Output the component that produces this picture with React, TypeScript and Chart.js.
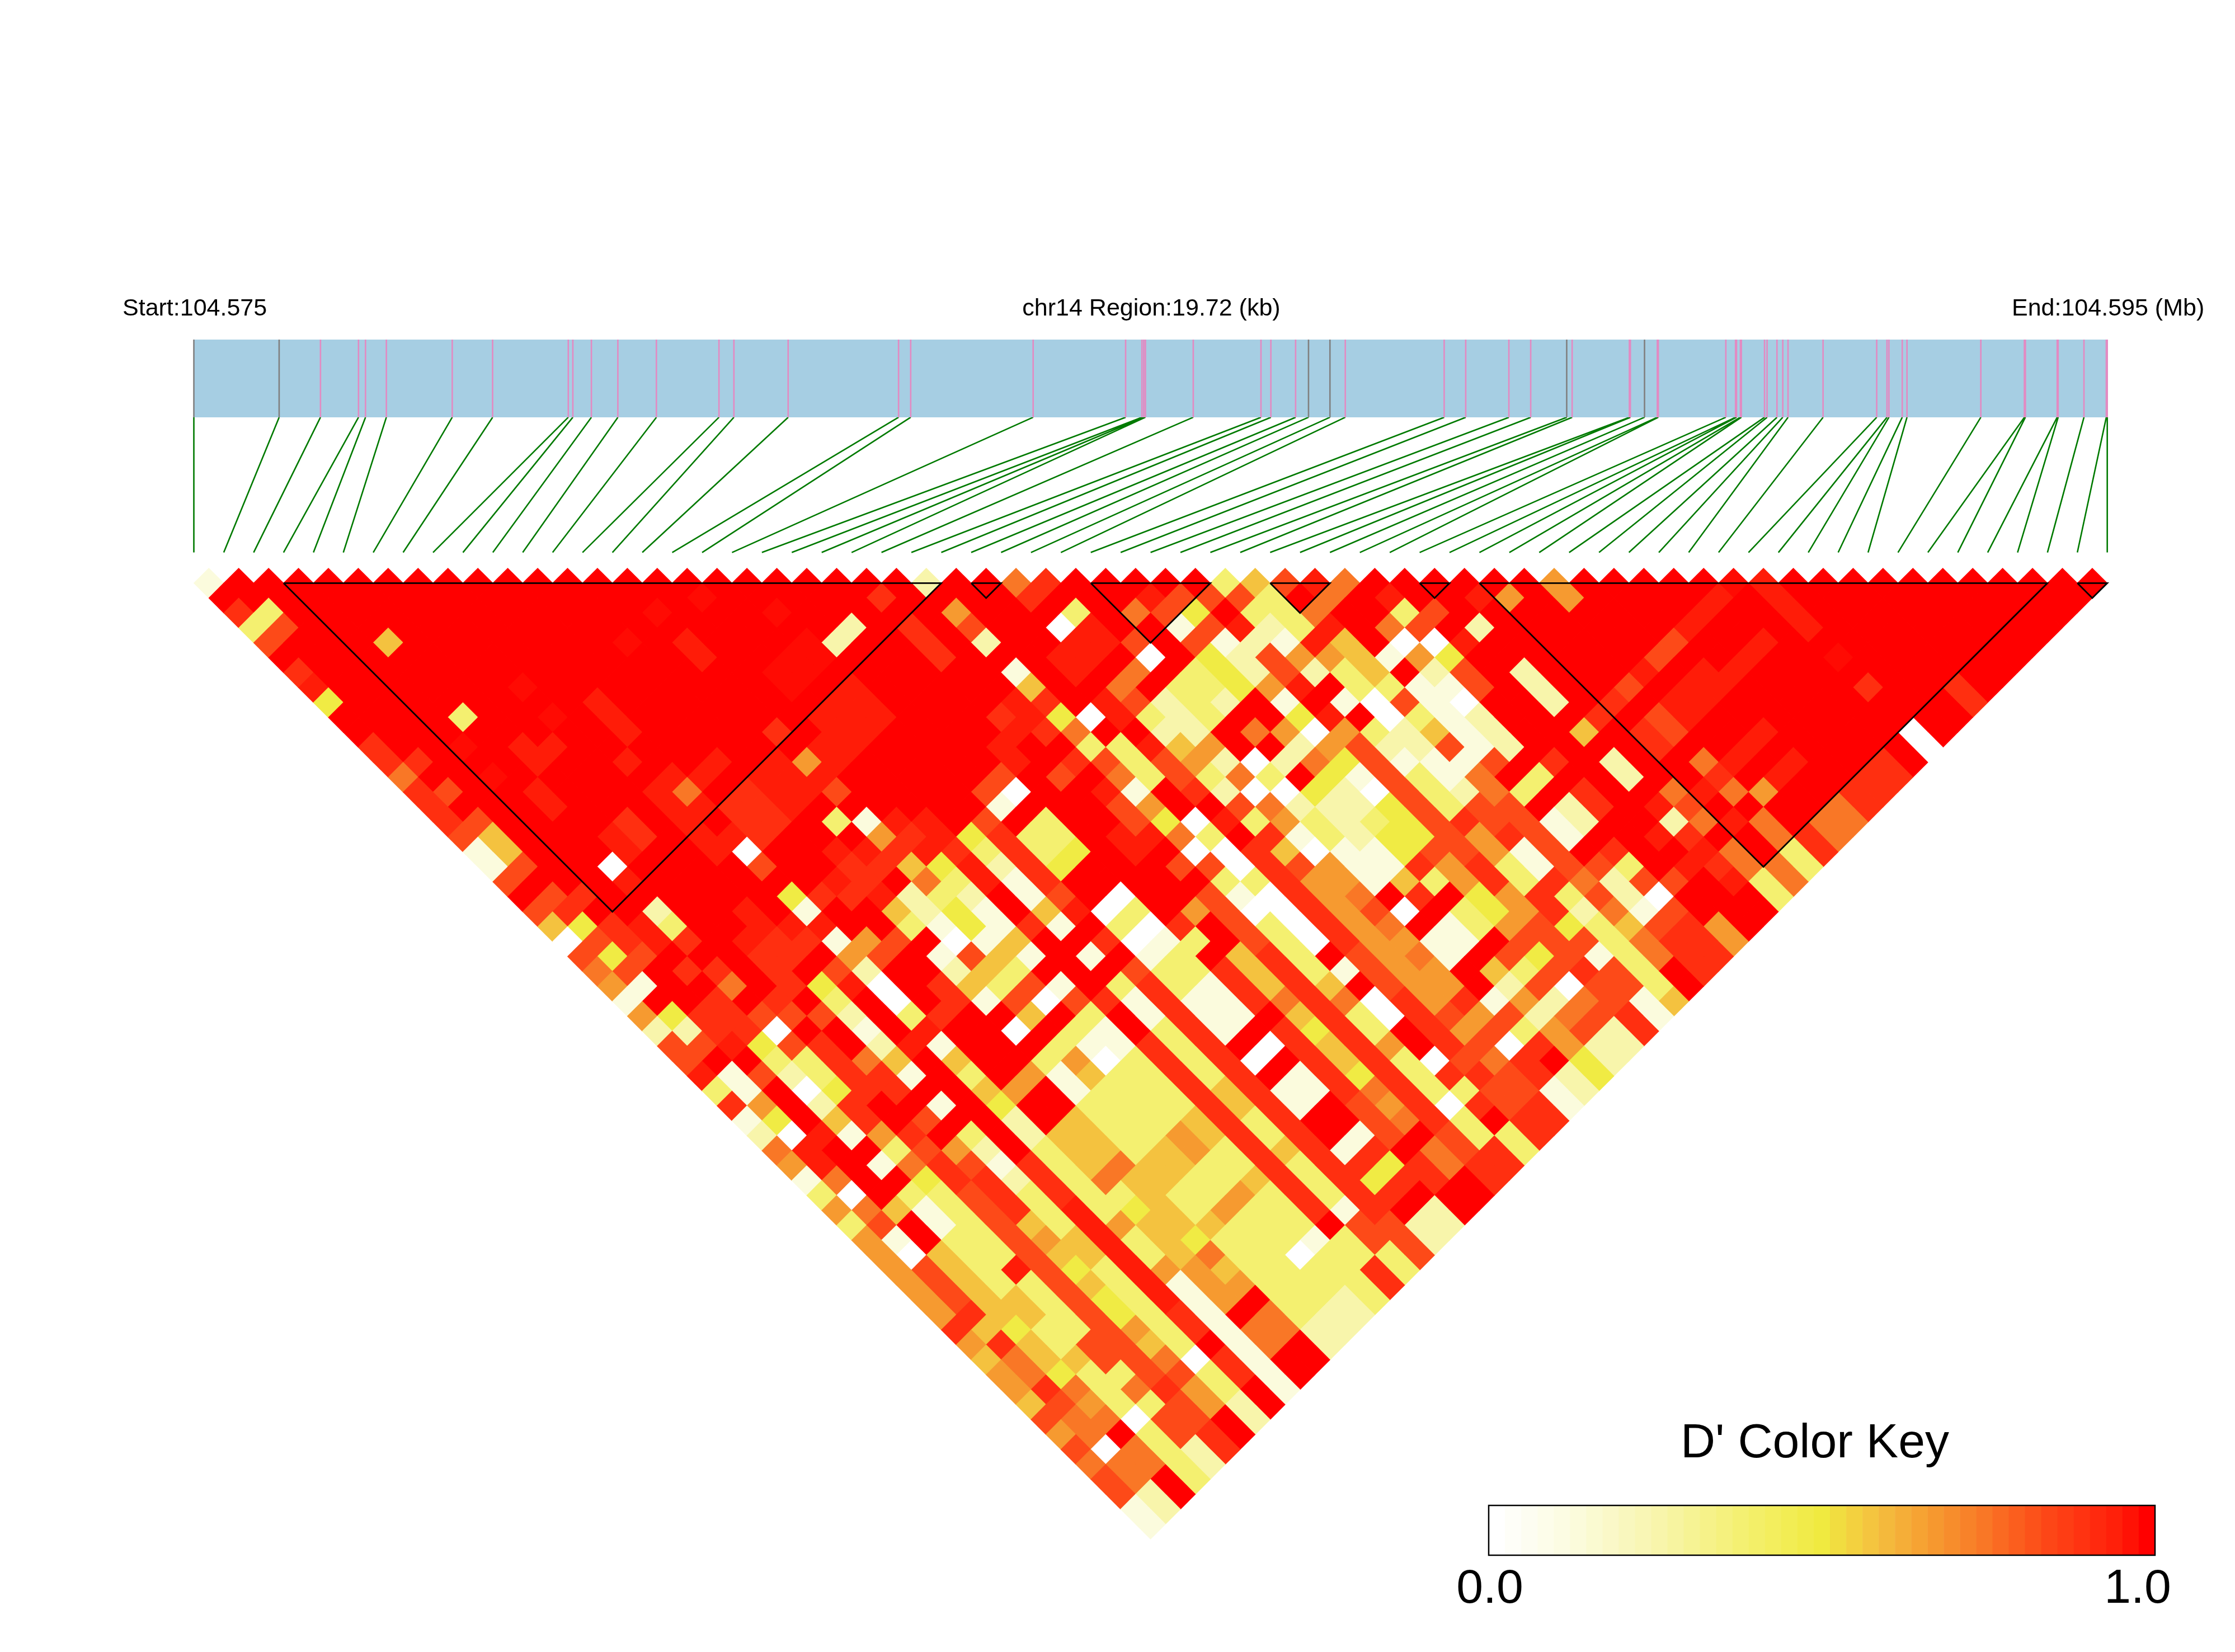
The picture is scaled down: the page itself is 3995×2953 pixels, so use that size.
import { useEffect, useRef } from "react";
import { Chart, registerables } from "chart.js";

Chart.register(...registerables);

// SNP positions along the region (kb from the start)
const regionKb = 19.72;
const snpKb = [0, 0.879, 1.305, 1.697, 1.769, 1.984, 2.663, 3.079, 3.859, 3.906, 4.097, 4.37, 4.767, 5.412, 5.566, 6.125,
  7.263, 7.388, 8.65, 9.603, 9.771, 9.79, 9.807, 10.3, 10.998, 11.1, 11.355, 11.488, 11.709, 11.867, 12.886, 13.108, 13.553, 13.778,
  14.149, 14.205, 14.795, 14.805, 14.951, 15.083, 15.093, 15.789, 15.889, 15.899, 15.939, 15.949,
  16.188, 16.214, 16.316, 16.376, 16.43, 16.791, 17.344, 17.45, 17.47, 17.607, 17.656, 18.417, 18.866, 18.876, 19.204, 19.214, 19.48, 19.71, 19.72];
const greySnps = [0, 1, 27, 28, 34, 38];

// Haplotype blocks (first SNP, last SNP)
const blocks = [[3, 25], [26, 27], [30, 34], [36, 38], [41, 42], [43, 62], [63, 64]];

// D' levels: a character in a row stands for one of these values
const levelChars = "0123456789abc";
const levelValues = [0, 0.12, 0.25, 0.38, 0.49, 0.58, 0.67, 0.75, 0.84, 0.91, 0.96, 0.985, 1];

// Colour key stops
const keyStopValues = [0, 0.12, 0.25, 0.38, 0.5, 0.58, 0.67, 0.75, 0.84, 0.91, 0.96, 1];
const keyStopColours = [[255, 255, 255], [251, 251, 221], [248, 245, 171], [244, 240, 112], [240, 234, 64], [244, 194, 63], [246, 154, 48], [249, 119, 38], [253, 74, 24], [255, 47, 16], [255, 28, 8], [255, 0, 0]];
const keySwatches = 41;

// LD rows: entry n holds pairs (i, i+n+1); "i:chars" starts at SNP i, gaps are D'=1
const ldRows = [
  "0:1 24:2 27:79 34:358a7 45:6 51:ba",
  "16:b 22:9 27:9 31:a 32:888 35:3 37:7 39:a 42:a6 45:6 50:a 52:a",
  "0:93 14:b 18:b 24:6 28:3 30:784 34:337 39:38 49:a 52:a",
  "0:38 20:2 22:9 24:8 27:0a 31:18a23a 38:78 41:2 48:a 52:a",
  "0:8 4:5 12:b 14:a 18:b2 22:9 24:2 27:aa8 31:8121a5 38:00a 47:8 50:a",
  "14:a 17:bb 22:9 26:aa 29:0 31:428665164 46:8 49:a 52:b",
  "0:9 16:bb 24:1 26:a 28:7 30:3428235c28 41:2 45:a 47:aa",
  "0:a 7:b 16:b 18:a 24:5 27:7 29:3346a 35:33118 41:2 44:8 46:aa 52:9 55:9",
  "0:4 9:a 17:aa 23:a9 26:a8232 32:1 34:10810 41:2 43:9 45:aa 55:9",
  "4:3 7:b 9:a 16:aaa 22:9a40a323 32:4a 35:0312 42:9 44:8a",
  "9:a 14:9 16:aa 22:a97 27:22 30:760632512 41:5 43:98 47:a 52:0",
  "0:9 3:b 5:aa 15:aa 21:a 24:33a56 31:26822812 43:9 46:a 52:0",
  "0:99 5:a 8:a 11:a 13:a6a 21:a 23:983862027481118 39:9 41:2 44:7a 47:a 50:9",
  "0:7 3:b 9:aa 12:aaa 20:8 22:8 24:738373 31:418317 38:3 41:2 44:9 46:a 49:99",
  "0:98 4:a 8:a7 11:9aa8 19:80 23:a1 26:92004208327 37:3 39:9 42:7a76 48:99",
  "0:9 4:a 8:aa99a 19:1 23:86 27:8722248388 38:29 41:a8 47:79",
  "0:98 6:9 8:a 10:99 13:31aa 18:8 20:3 23:840a363234898812 41:27a7 46:77",
  "0:85 5:a9 8:aa9 14:69a4933 22:aa73 27:91324486981 40:a9 44:797",
  "0:15 5:a 8:a0 12:aa9a93934 22:a 24:0095011488618 38:9 41:a7 44:39",
  "0:18 4:0 9:8 12:9954a294 23:8809861196931883 40:a9773",
  "0:8 4:a 11:a9 14:73a19 24:3396615369397288 41:a37",
  "1:89 9:499a232 17:18 20:0 23:810967 30:9 32:4693820 42:3",
  "0:89 4:2 7:a 9:1 12:5241 17:5a03 22:68009680 31:34692718",
  "0:54 2:9 3:a 4:3 7:aaa 12:3 13:1 14:4 15:1 16:9 17:1 19:3 20:0 21:9 23:8 24:3 25:0 26:9 27:6 28:7 30:1 31:3 32:6 33:8 34:4 35:3 36:5 37:8 38:9 39:6",
  "0:089a9 6:a99168 13:015c 18:9013 23:83096611 32:88837996",
  "0:848 6:99 9:68 12:1851 17:1 19:13 22:593 26:8671 31:84813799",
  "0:78 3:99 6:9 8:82 12:253 18:83395931866 30:538983 37:9",
  "0:61 4:7 6:94a0 11:95381 17:39319595 26:866 30:280883",
  "0:1 3:9 5:9 7:3 9:0 11:918089191197970969 29:1627815",
  "0:64998882c39 13:5c3c1911c 22:5930986827891",
  "0:22990 7:1 9:a 12:0c31c391c9493c96836829",
  "0:88a489 7:2a1 13:311939c09596c9809622",
  "0:8 3:33975 9:5 12:36039390c95930879c42",
  "0:a1823991 9:3 11:61533939c19493998924",
  "0:31 3:0499 9:56 12:133395911979338812",
  "0:96 3:29 7:1 9:4 12:33339591c86909891",
  "0:14 3:59 6:8 9:2 11:53335939cc8793c99",
  "0:20a169 7:3c2553365939c18c8339",
  "0:7acc3862c355356395919c7893",
  "0:6ac1798193575533939949799",
  "0:17cc499293755335939499c9",
  "0:30c33893933533639399ccc",
  "0:67513893a3453633919c2c",
  "0:38c13853a6555333c8822",
  "0:61c33865a35433313882",
  "0:60533855a3573303338",
  "0:6853a843a665333393",
  "0:68533853a16633339",
  "0:68553843a16c3323",
  "0:6955384391c7322",
  "0:95433863917722",
  "0:69538853c17c2",
  "0:5755887091cc",
  "0:6743388391c",
  "0:69737963c1",
  "0:58633862c",
  "0:877088c2",
  "0:67c389c",
  "0:807329",
  "0:77732",
  "0:87c3",
  "0:82c",
  "0:12",
  "0:1",
];

const W = 3995;
const H = 2953;
const originX = 346.5;
const originY = 1015.6;
const unitX = 26.72;
const unitY = 26.7;

function keyColour(v: number): string {
  let s = 0;
  while (s < keyStopValues.length - 2 && v > keyStopValues[s + 1]) s++;
  const t = (v - keyStopValues[s]) / (keyStopValues[s + 1] - keyStopValues[s]);
  const c = keyStopColours[s].map((a, n) => Math.round(a + (keyStopColours[s + 1][n] - a) * t));
  return `rgb(${c[0]},${c[1]},${c[2]})`;
}

function buildCells() {
  const points: { x: number; y: number }[] = [];
  const colours: string[] = [];
  ldRows.forEach((row, r) => {
    const k = r + 1;
    const count = 65 - k;
    const cells = new Array(count).fill(1);
    row.split(" ").forEach((token) => {
      const [start, chars] = token.split(":");
      [...chars].forEach((ch, n) => {
        const i = Number(start) + n;
        if (i < count) cells[i] = levelValues[levelChars.indexOf(ch)];
      });
    });
    cells.forEach((v, i) => {
      points.push({ x: 2 * i + k, y: k });
      colours.push(keyColour(v));
    });
  });
  return { points, colours };
}

const barTop = -15.3;
const barBottom = -10.1;
const linkEnd = -1.05;
const kbToX = (kb: number) => (kb / regionKb) * 128;
const gap = { x: NaN, y: NaN };

const textPlugin = {
  id: "texts",
  afterDraw(chart: Chart) {
    const ctx = chart.ctx;
    ctx.save();
    ctx.fillStyle = "#000";
    ctx.textBaseline = "alphabetic";
    ctx.font = '43px "Liberation Sans"';
    ctx.textAlign = "left";
    ctx.fillText("Start:104.575", 219, 564);
    ctx.textAlign = "center";
    ctx.fillText("chr14 Region:19.72 (kb)", 2058, 564);
    ctx.textAlign = "left";
    ctx.fillText("End:104.595 (Mb)", 3596, 564);

    const kx = 2661;
    const kw = 1191;
    const ky = 2691;
    const kh = 89;
    for (let s = 0; s < keySwatches; s++) {
      ctx.fillStyle = keyColour(s / (keySwatches - 1));
      const x0 = kx + (s * kw) / keySwatches;
      ctx.fillRect(x0, ky, kw / keySwatches + 0.5, kh);
    }
    ctx.strokeStyle = "#000";
    ctx.lineWidth = 2.5;
    ctx.strokeRect(kx, ky, kw, kh);

    ctx.fillStyle = "#000";
    ctx.font = '86px "Liberation Sans"';
    ctx.textAlign = "center";
    ctx.fillText("D' Color Key", 3244, 2605);
    ctx.fillText("0.0", 2663, 2865);
    ctx.fillText("1.0", 3821, 2865);
    ctx.restore();
  },
};

export default function App() {
  const ref = useRef<HTMLCanvasElement>(null);
  useEffect(() => {
    const { points, colours } = buildCells();
    const pink: { x: number; y: number }[] = [];
    const grey: { x: number; y: number }[] = [];
    const links: { x: number; y: number }[] = [];
    snpKb.forEach((kb, n) => {
      const x = kbToX(kb);
      (greySnps.includes(n) ? grey : pink).push({ x, y: barTop }, { x, y: barBottom }, gap);
      links.push({ x, y: barBottom }, { x: 2 * n, y: linkEnd }, gap);
    });
    const outlines: { x: number; y: number }[] = [];
    blocks.forEach(([a, b]) => {
      outlines.push(
        { x: 2 * a, y: 1 },
        { x: 2 * b, y: 1 },
        { x: a + b, y: 1 + b - a },
        { x: 2 * a, y: 1 },
        gap,
      );
    });
    const line = { showLine: true, pointRadius: 0, fill: false, tension: 0 };
    const chart = new Chart(ref.current!, {
      type: "scatter",
      data: {
        datasets: [
          { ...line, data: outlines, borderColor: "#000", borderWidth: 2.8, order: 1 },
          { ...line, data: grey, borderColor: "#808080", borderWidth: 2.6, order: 2 },
          { ...line, data: pink, borderColor: "#e38ac2", borderWidth: 2.6, order: 2 },
          {
            ...line,
            data: [{ x: 0, y: barTop }, { x: 128, y: barTop }],
            borderWidth: 0,
            borderColor: "#a6cee3",
            backgroundColor: "#a6cee3",
            fill: { value: barBottom },
            order: 3,
          },
          { ...line, data: links, borderColor: "#007a00", borderWidth: 2.6, order: 4 },
          {
            data: points,
            pointStyle: "rectRot",
            pointRadius: 27.4,
            pointBorderWidth: 0,
            pointBackgroundColor: colours,
            order: 5,
          },
        ],
      } as any,
      options: {
        animation: false,
        responsive: false,
        devicePixelRatio: 1,
        layout: { padding: 0, autoPadding: false },
        events: [],
        plugins: { legend: { display: false }, tooltip: { enabled: false } },
        scales: {
          x: { type: "linear", display: false, min: -originX / unitX, max: (W - originX) / unitX },
          y: { type: "linear", display: false, reverse: true, min: -originY / unitY, max: (H - originY) / unitY },
        },
      },
      plugins: [textPlugin],
    });
    return () => chart.destroy();
  }, []);
  return (
    <canvas
      ref={ref}
      width={W}
      height={H}
      style={{ position: "absolute", left: 0, top: 0, display: "block", background: "#fff" }}
    />
  );
}
